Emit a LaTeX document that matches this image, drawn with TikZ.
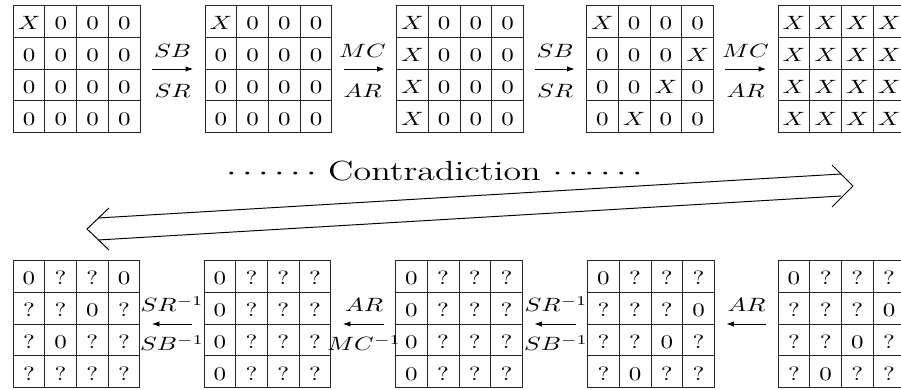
\documentclass[tikz,border=0pt]{standalone}
\usetikzlibrary{matrix,arrows.meta}
\newcommand{\hs}[1]{\scalebox{1.3}[1]{#1}}
\newcommand{\cX}{\hs{$X$}}
\newcommand{\cO}{\hs{0}}
\newcommand{\cQ}{\hs{?}}
\tikzset{
  gridfour/.style={matrix of nodes, inner sep=0pt, column sep=-0.5pt, row sep=-0.5pt,
    nodes={draw=black!85, line width=0.5pt, minimum size=16.5pt, inner sep=0pt,
      anchor=center, text height=8.8pt, text depth=0pt}},
  arr/.style={-{Latex[length=4pt,width=2.8pt]}, line width=0.5pt, shorten <=5.7pt, shorten >=5.7pt},
  lbl/.style={anchor=base, inner sep=0pt},
  dbl/.style={line width=0.5pt, line join=miter}
}
\begin{document}
\begin{tikzpicture}[x=0.52pt,y=-0.52pt]
\useasboundingbox (0,0) rectangle (901,390);
\clip (0,0) rectangle (901,390);
% top row
\matrix[gridfour] (t1) at (76.7,69) {
\cX & \cO & \cO & \cO \\
\cO & \cO & \cO & \cO \\
\cO & \cO & \cO & \cO \\
\cO & \cO & \cO & \cO \\
};
\matrix[gridfour] (t2) at (268.5,69) {
\cX & \cO & \cO & \cO \\
\cO & \cO & \cO & \cO \\
\cO & \cO & \cO & \cO \\
\cO & \cO & \cO & \cO \\
};
\matrix[gridfour] (t3) at (460,69) {
\cX & \cO & \cO & \cO \\
\cX & \cO & \cO & \cO \\
\cX & \cO & \cO & \cO \\
\cX & \cO & \cO & \cO \\
};
\matrix[gridfour] (t4) at (650,69) {
\cX & \cO & \cO & \cO \\
\cO & \cO & \cO & \cX \\
\cO & \cO & \cX & \cO \\
\cO & \cX & \cO & \cO \\
};
\matrix[gridfour] (t5) at (841.5,69) {
\cX & \cX & \cX & \cX \\
\cX & \cX & \cX & \cX \\
\cX & \cX & \cX & \cX \\
\cX & \cX & \cX & \cX \\
};
\draw[arr] (t1.east) -- (t2.west);
\draw[arr] (t2.east) -- (t3.west);
\draw[arr] (t3.east) -- (t4.west);
\draw[arr] (t4.east) -- (t5.west);
\node[lbl] (ta1) at (172.5,58) {\hs{$SB$}};
\node[lbl] (tb1) at (172.5,98) {\hs{$SR$}};
\node[lbl] (ta2) at (362.5,58) {\hs{$MC$}};
\node[lbl] (tb2) at (362.5,98) {\hs{$AR$}};
\node[lbl] (ta3) at (555,58) {\hs{$SB$}};
\node[lbl] (tb3) at (555,98) {\hs{$SR$}};
\node[lbl] (ta4) at (745.5,58) {\hs{$MC$}};
\node[lbl] (tb4) at (745.5,98) {\hs{$AR$}};
% contradiction
\node[anchor=base, inner sep=0pt] (contra) at (434.5,181)
  {\hs{\Large$\cdots\cdots$ Contradiction $\cdots\cdots$}};
\coordinate (rt) at (853,186);
\coordinate (rau) at (832,165);
\coordinate (rad) at (832,207);
\coordinate (lt) at (87,229);
\coordinate (lau) at (109,208);
\coordinate (lad) at (109,250);
\coordinate (ul) at (98,218);
\coordinate (ur) at (841,174);
\coordinate (dl) at (98,240);
\coordinate (dr) at (841,196);
\draw[dbl] (rau) -- (rt) -- (rad);
\draw[dbl] (lau) -- (lt) -- (lad);
\draw[dbl] (ul) -- (ur);
\draw[dbl] (dl) -- (dr);
% bottom row
\matrix[gridfour] (b1) at (76.5,324) {
\cO & \cQ & \cQ & \cO \\
\cQ & \cQ & \cO & \cQ \\
\cQ & \cO & \cQ & \cQ \\
\cQ & \cQ & \cQ & \cQ \\
};
\matrix[gridfour] (b2) at (267.5,324) {
\cO & \cQ & \cQ & \cQ \\
\cO & \cQ & \cQ & \cQ \\
\cO & \cQ & \cQ & \cQ \\
\cO & \cQ & \cQ & \cQ \\
};
\matrix[gridfour] (b3) at (459,324) {
\cO & \cQ & \cQ & \cQ \\
\cO & \cQ & \cQ & \cQ \\
\cO & \cQ & \cQ & \cQ \\
\cO & \cQ & \cQ & \cQ \\
};
\matrix[gridfour] (b4) at (651,324) {
\cO & \cQ & \cQ & \cQ \\
\cQ & \cQ & \cQ & \cO \\
\cQ & \cQ & \cO & \cQ \\
\cQ & \cO & \cQ & \cQ \\
};
\matrix[gridfour] (b5) at (841.5,324) {
\cO & \cQ & \cQ & \cQ \\
\cQ & \cQ & \cQ & \cO \\
\cQ & \cQ & \cO & \cQ \\
\cQ & \cO & \cQ & \cQ \\
};
\draw[arr] (b2.west) -- (b1.east);
\draw[arr] (b3.west) -- (b2.east);
\draw[arr] (b4.west) -- (b3.east);
\draw[arr] (b5.west) -- (b4.east);
\node[lbl] (ba1) at (172,312) {\hs{$SR^{-1}$}};
\node[lbl] (bb1) at (172,351) {\hs{$SB^{-1}$}};
\node[lbl] (ba2) at (364,312) {\hs{$AR$}};
\node[lbl] (bb2) at (364,351) {\hs{$MC^{-1}$}};
\node[lbl] (ba3) at (556,312) {\hs{$SR^{-1}$}};
\node[lbl] (bb3) at (556,351) {\hs{$SB^{-1}$}};
\node[lbl] (ba4) at (746.5,312) {\hs{$AR$}};
\end{tikzpicture}
\end{document}
